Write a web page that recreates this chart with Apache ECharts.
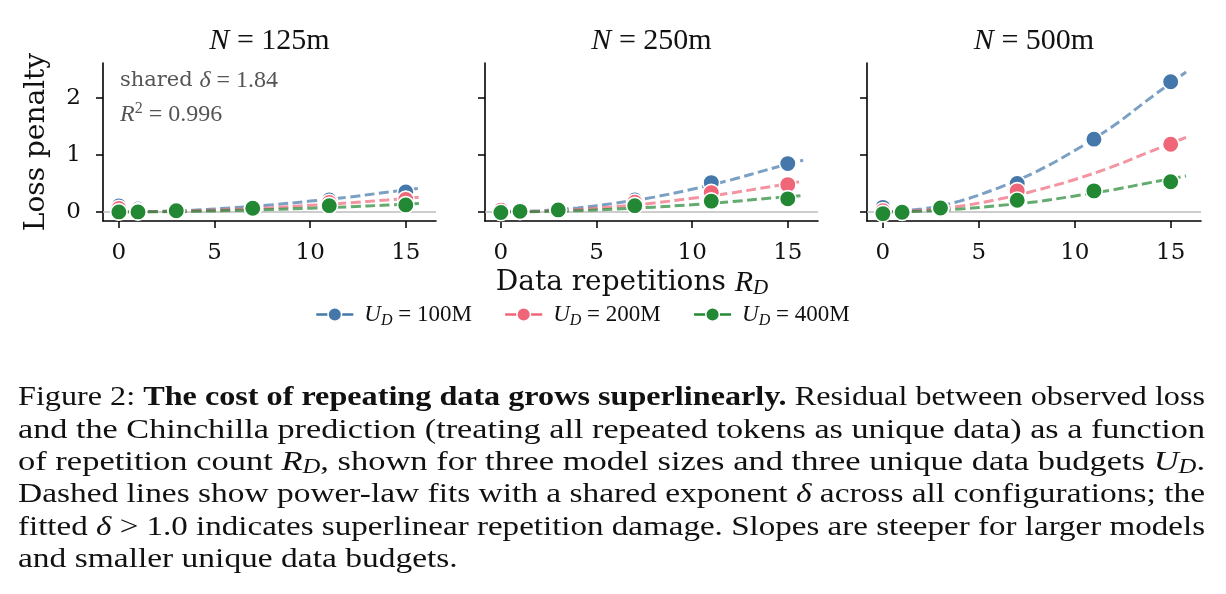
<!DOCTYPE html>
<html><head><meta charset="utf-8">
<script src="https://cdn.jsdelivr.net/npm/echarts@6/dist/echarts.min.js"></script>
<style>html,body{margin:0;padding:0;background:#fff}#c{width:1226px;height:594px}</style>
</head><body><div id="c"></div>
<script>
// ---------------- data ----------------
const repetitions = [0, 1, 3, 7, 11, 15];
const fitRepetitions = [0, 2, 4, 6, 8, 10, 12, 14, 15.8];
const modelSizes = ['125m', '250m', '500m'];
const budgets = ['100M', '200M', '400M'];
const xTicks = [0, 5, 10, 15];
const yTicks = [0, 1, 2];

// observed loss penalty (rows: U_D = 100M, 200M, 400M)
const penalty125m_100M = [0.105, 0.05, 0.03, 0.07, 0.21, 0.35];
const penalty125m_200M = [0.06, 0.02, 0.02, 0.065, 0.165, 0.22];
const penalty125m_400M = [0.0, 0.0, 0.02, 0.065, 0.11, 0.123];
const penalty250m_100M = [0.02, 0.04, 0.03, 0.21, 0.515, 0.85];
const penalty250m_200M = [0.03, 0.02, 0.03, 0.17, 0.34, 0.48];
const penalty250m_400M = [-0.01, 0.01, 0.035, 0.11, 0.19, 0.23];
const penalty500m_100M = [0.08, 0.01, 0.06, 0.50, 1.28, 2.29];
const penalty500m_200M = [0.02, 0.0, 0.05, 0.37, null, 1.19];
const penalty500m_400M = [-0.03, -0.005, 0.07, 0.205, 0.37, 0.53];

// power-law fit curves (shared exponent), read along fitRepetitions
const fit125m_100M = [0, 0.009, 0.033, 0.074, 0.124, 0.19, 0.26, 0.345, 0.42];
const fit125m_200M = [0, 0.005, 0.02, 0.045, 0.075, 0.115, 0.16, 0.21, 0.26];
const fit125m_400M = [0, 0.003, 0.011, 0.025, 0.043, 0.065, 0.09, 0.12, 0.15];
const fit250m_100M = [0, 0.02, 0.07, 0.155, 0.26, 0.40, 0.56, 0.75, 0.91];
const fit250m_200M = [0, 0.011, 0.042, 0.092, 0.156, 0.24, 0.33, 0.44, 0.54];
const fit250m_400M = [0, 0.006, 0.022, 0.05, 0.084, 0.127, 0.178, 0.24, 0.29];
const fit500m_100M = [0, 0.05, 0.19, 0.42, 0.71, 1.08, 1.51, 2.02, 2.46];
const fit500m_200M = [0, 0.027, 0.10, 0.22, 0.38, 0.57, 0.80, 1.07, 1.31];
const fit500m_400M = [0, 0.013, 0.05, 0.11, 0.18, 0.28, 0.39, 0.52, 0.63];

const sharedDelta = '1.84';
const rSquared = '0.996';

// ---------------- layout / style ----------------
const colors = ['#4477AA', '#EE6677', '#228833'];
const mathFont = 'Liberation Serif';
const textFont = 'DejaVu Serif';
const observed = [
  [penalty125m_100M, penalty125m_200M, penalty125m_400M],
  [penalty250m_100M, penalty250m_200M, penalty250m_400M],
  [penalty500m_100M, penalty500m_200M, penalty500m_400M]
];
const fits = [
  [fit125m_100M, fit125m_200M, fit125m_400M],
  [fit250m_100M, fit250m_200M, fit250m_400M],
  [fit500m_100M, fit500m_200M, fit500m_400M]
];
const gridLeft = [103, 485, 867];
const gridWidth = [333, 333, 334];
const gridTop = 63, gridHeight = 158;
const names = budgets.map(b => 'U_D = ' + b);

const grids = [], xAxes = [], yAxes = [], series = [];
for (let p = 0; p < 3; p++) {
  grids.push({left: gridLeft[p], top: gridTop, width: gridWidth[p], height: gridHeight, containLabel: false});
  xAxes.push({
    type: 'value', gridIndex: p, min: -0.83, max: 16.58,
    axisLine: {show: true, onZero: false, lineStyle: {color: '#000', width: 1.6}},
    axisTick: {show: true, length: 7, customValues: xTicks, lineStyle: {color: '#000', width: 1.5}},
    axisLabel: {customValues: xTicks, fontFamily: textFont, fontSize: 23, color: '#111', margin: 21},
    splitLine: {show: false}
  });
  yAxes.push({
    type: 'value', gridIndex: p, min: -0.16, max: 2.62,
    axisLine: {show: true, onZero: false, lineStyle: {color: '#000', width: 1.6}},
    axisTick: {show: true, length: 7, customValues: yTicks, lineStyle: {color: '#000', width: 1.5}},
    axisLabel: {show: p === 0, customValues: yTicks, fontFamily: textFont, fontSize: 23, color: '#111', margin: 22},
    splitLine: {show: false}
  });
  for (let k = 0; k < 3; k++) {
    const s = {
      type: 'line', name: 'fit ' + names[k], xAxisIndex: p, yAxisIndex: p,
      data: fitRepetitions.map((x, i) => [x, fits[p][k][i]]),
      smooth: 0.35, symbol: 'none', silent: true, z: 4,
      lineStyle: {color: colors[k], width: 3, type: [10, 4.5], opacity: 0.7},
      emphasis: {disabled: true}
    };
    if (k === 0) {
      s.markLine = {
        silent: true, symbol: 'none', z: 1, label: {show: false},
        lineStyle: {color: '#bdbdbd', width: 1.5, type: 'solid', opacity: 1},
        emphasis: {disabled: true},
        data: [{yAxis: 0}]
      };
    }
    series.push(s);
  }
  for (let k = 0; k < 3; k++) {
    series.push({
      type: 'line', name: names[k], xAxisIndex: p, yAxisIndex: p,
      data: repetitions.map((x, i) => [x, observed[p][k][i]]).filter(d => d[1] !== null),
      symbol: 'circle', symbolSize: 16.5, showAllSymbol: true, z: 10,
      lineStyle: {width: 0},
      itemStyle: {color: colors[k], borderColor: '#fff', borderWidth: 1.6},
      emphasis: {disabled: true}
    });
  }
}

// ---------------- text helpers ----------------
const ctx = document.createElement('canvas').getContext('2d');
function measure(tokens, rich) {
  let w = 0;
  tokens.forEach(([k, t]) => {
    const r = rich[k];
    ctx.font = `${r.fontStyle || 'normal'} ${r.fontWeight || 'normal'} ${r.fontSize}px ${r.fontFamily}`;
    w += ctx.measureText(t).width;
  });
  return w;
}
const toRich = tokens => tokens.map(([k, t]) => `{${k}|${t}}`).join('');

const graphics = [];
// panel titles
const titleRich = {
  i: {fontFamily: mathFont, fontStyle: 'italic', fontSize: 30, fill: '#111'},
  t: {fontFamily: mathFont, fontSize: 30, fill: '#111'}
};
for (let p = 0; p < 3; p++) {
  graphics.push({type: 'text', x: gridLeft[p] + gridWidth[p] / 2, y: 41, silent: true,
    style: {text: `{i|N}{t| = ${modelSizes[p]}}`, rich: titleRich, align: 'center', verticalAlign: 'middle'}});
}
// y axis name
graphics.push({type: 'text', x: 37, y: 142, rotation: Math.PI / 2, silent: true,
  style: {text: 'Loss penalty', fontFamily: textFont, fontSize: 28, fill: '#111', align: 'center', verticalAlign: 'middle'}});
// x axis name
graphics.push({type: 'text', x: 632, y: 283, silent: true,
  style: {text: '{a|Data repetitions }{i|R}{s|D}', align: 'center', verticalAlign: 'middle', rich: {
    a: {fontFamily: textFont, fontSize: 28, lineHeight: 32, fill: '#111'},
    i: {fontFamily: mathFont, fontStyle: 'italic', fontSize: 30, lineHeight: 32, fill: '#111'},
    s: {fontFamily: mathFont, fontStyle: 'italic', fontSize: 21, lineHeight: 12, verticalAlign: 'bottom', fill: '#111'}
  }}});
// annotation
graphics.push({type: 'text', x: 120, y: 81, silent: true,
  style: {text: `{a|shared }{i|δ}{t| = ${sharedDelta}}`, align: 'left', verticalAlign: 'middle', rich: {
    a: {fontFamily: textFont, fontSize: 21, fill: '#555'},
    i: {fontFamily: mathFont, fontStyle: 'italic', fontSize: 24, fill: '#555'},
    t: {fontFamily: mathFont, fontSize: 24, fill: '#555'}
  }}});
graphics.push({type: 'text', x: 120, y: 115, silent: true,
  style: {text: `{i|R}{p|2}{t| = ${rSquared}}`, align: 'left', verticalAlign: 'middle', rich: {
    i: {fontFamily: mathFont, fontStyle: 'italic', fontSize: 24, lineHeight: 28, fill: '#555'},
    p: {fontFamily: mathFont, fontSize: 16, lineHeight: 12, verticalAlign: 'top', fill: '#555'},
    t: {fontFamily: mathFont, fontSize: 24, lineHeight: 28, fill: '#555'}
  }}});

// caption
const capRich = {
  n: {fontFamily: mathFont, fontSize: 28, lineHeight: 30, fill: '#111'},
  b: {fontFamily: mathFont, fontWeight: 'bold', fontSize: 28, lineHeight: 30, fill: '#111'},
  i: {fontFamily: mathFont, fontStyle: 'italic', fontSize: 28, lineHeight: 30, fill: '#111'},
  s: {fontFamily: mathFont, fontStyle: 'italic', fontSize: 20, lineHeight: 14, verticalAlign: 'bottom', fill: '#111'}
};
const captionLines = [
  [['n', 'Figure 2: '], ['b', 'The cost of repeating data grows superlinearly.'], ['n', ' Residual between observed loss']],
  [['n', 'and the Chinchilla prediction (treating all repeated tokens as unique data) as a function']],
  [['n', 'of repetition count '], ['i', 'R'], ['s', 'D'], ['n', ', shown for three model sizes and three unique data budgets '], ['i', 'U'], ['s', 'D'], ['n', '.']],
  [['n', 'Dashed lines show power-law fits with a shared exponent '], ['i', 'δ'], ['n', ' across all configurations; the']],
  [['n', 'fitted '], ['i', 'δ'], ['n', ' > 1.0 indicates superlinear repetition damage. Slopes are steeper for larger models']],
  [['n', 'and smaller unique data budgets.']]
];
const capY = [398, 430.5, 463, 495, 527.5, 560];
const capScales = captionLines.map(t => (1205 - 18) / measure(t, capRich));
const meanScale = capScales.slice(0, 5).reduce((a, b) => a + b, 0) / 5;
captionLines.forEach((t, i) => {
  graphics.push({type: 'text', x: 18, y: capY[i], scaleX: i < 5 ? capScales[i] : meanScale, silent: true,
    style: {text: toRich(t), rich: capRich, align: 'left', verticalAlign: 'middle'}});
});

const chart = echarts.init(document.getElementById('c'), null, {renderer: 'canvas'});
chart.setOption({
  animation: false,
  backgroundColor: '#fff',
  grid: grids, xAxis: xAxes, yAxis: yAxes, series: series,
  legend: {
    data: names, left: 310, top: 298, itemWidth: 37, itemHeight: 17, itemGap: 32,
    selectedMode: false,
    lineStyle: {width: 2.6, type: 'solid', opacity: 1},
    itemStyle: {borderColor: '#fff', borderWidth: 1.5},
    formatter: name => {
      const b = name.split(' = ')[1];
      return `{i|U}{s|D}{t| = ${b}}`;
    },
    textStyle: {rich: {
      i: {fontFamily: mathFont, fontStyle: 'italic', fontSize: 23, lineHeight: 28, color: '#111', padding: [0, 0, 0, 6]},
      s: {fontFamily: mathFont, fontStyle: 'italic', fontSize: 16, lineHeight: 11, verticalAlign: 'bottom', color: '#111'},
      t: {fontFamily: mathFont, fontSize: 23, lineHeight: 28, color: '#111'}
    }}
  },
  graphic: graphics
});
</script></body></html>
